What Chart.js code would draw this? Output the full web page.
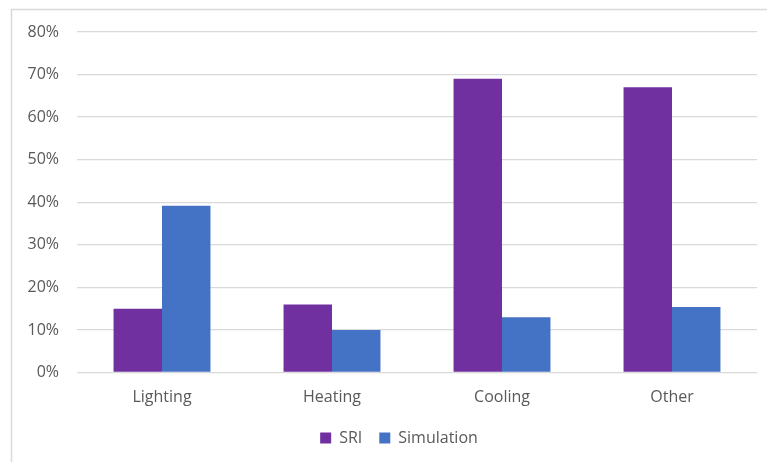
<!DOCTYPE html>
<html>
<head>
<meta charset="utf-8">
<script src="https://cdn.jsdelivr.net/npm/chart.js@4"></script>
<style>
  html, body { margin: 0; padding: 0; background: #ffffff; }
  #wrap { width: 767px; height: 462px; position: relative; }
</style>
</head>
<body>
<div id="wrap"><canvas id="chart" width="767" height="462"></canvas></div>
<script>
// End-use categories and shares (percent)
const categories = ['Lighting', 'Heating', 'Cooling', 'Other'];
const sriValues = [15, 16, 69, 67];
const simulationValues = [39.2, 10, 13, 15.4];
const yTicks = [0, 10, 20, 30, 40, 50, 60, 70, 80];

const textColor = '#595959';
const gridColor = '#d9d9d9';

// White background plus the light frame around the chart
const framePlugin = {
  id: 'frame',
  beforeDraw(chart) {
    const ctx = chart.ctx;
    ctx.save();
    ctx.fillStyle = '#ffffff';
    ctx.fillRect(0, 0, chart.width, chart.height);
    ctx.strokeStyle = '#d9d9d9';
    ctx.lineWidth = 1.5;
    ctx.strokeRect(11.5, 9.5, 900, 600);
    ctx.restore();
  }
};

// Nudge the legend row a little to the right of the canvas centre
const legendShift = {
  id: 'legendShift',
  afterUpdate(chart) {
    const lg = chart.legend;
    if (lg) { lg.left += 15; lg.right += 15; }
  }
};

new Chart(document.getElementById('chart'), {
  type: 'bar',
  data: {
    labels: categories,
    datasets: [
      { label: 'SRI', data: sriValues, backgroundColor: '#7030A0', borderWidth: 0 },
      { label: 'Simulation', data: simulationValues, backgroundColor: '#4472C4', borderWidth: 0 }
    ]
  },
  options: {
    responsive: false,
    animation: false,
    events: [],
    categoryPercentage: 0.57,
    barPercentage: 1.0,
    layout: { padding: { left: 11, right: 10, top: 32, bottom: 6 } },
    font: { family: '"Open Sans", sans-serif', size: 16 },
    plugins: {
      legend: {
        position: 'bottom',
        labels: {
          color: textColor,
          boxWidth: 11,
          boxHeight: 11,
          padding: 17,
          font: { family: '"Open Sans", sans-serif', size: 16 }
        }
      },
      tooltip: { enabled: false }
    },
    scales: {
      x: {
        grid: { display: false },
        border: { display: false },
        ticks: { color: textColor, padding: 7.5, font: { family: '"Open Sans", sans-serif', size: 16 } },
        afterFit(scale) { scale.height = 40.5; }
      },
      y: {
        min: 0,
        max: 80,
        afterBuildTicks(scale) { scale.ticks = yTicks.map(v => ({ value: v })); },
        grid: { color: gridColor, lineWidth: 1.3, drawTicks: false },
        border: { display: false },
        ticks: {
          color: textColor,
          padding: 18,
          font: { family: '"Open Sans", sans-serif', size: 16 },
          callback: v => v + '%'
        },
        afterFit(scale) { scale.width = 66; }
      }
    }
  },
  plugins: [framePlugin, legendShift]
});
</script>
</body>
</html>
